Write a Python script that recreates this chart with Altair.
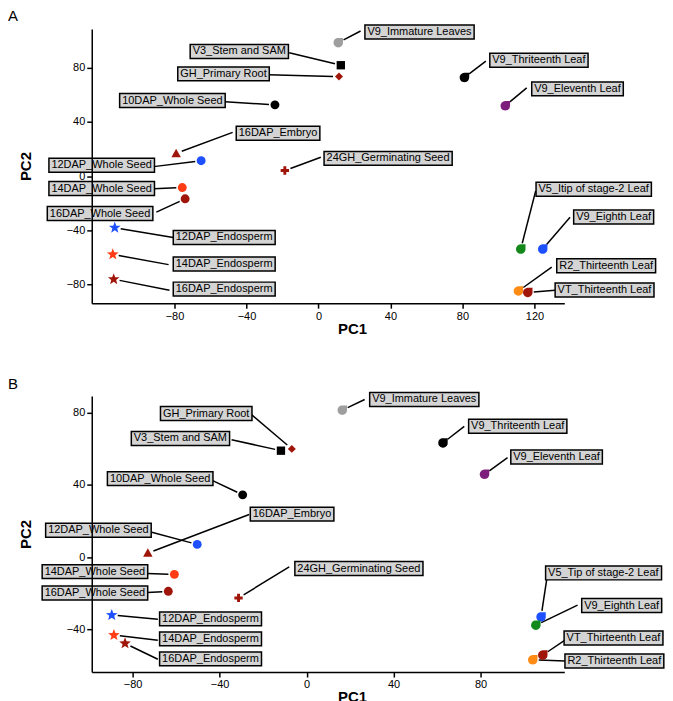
import altair as alt
import pandas as pd
import math

FONT = "Liberation Sans"

# ---------------- data ----------------
names_A = ["V9_Immature Leaves", "V3_Stem and SAM", "GH_Primary Root", "10DAP_Whole Seed",
           "16DAP_Embryo", "12DAP_Whole Seed", "24GH_Germinating Seed", "14DAP_Whole Seed",
           "16DAP_Whole Seed", "12DAP_Endosperm", "14DAP_Endosperm", "16DAP_Endosperm",
           "V9_Thriteenth Leaf", "V9_Eleventh Leaf", "V5_Itip of stage-2 Leaf", "V9_Eighth Leaf",
           "R2_Thirteenth Leaf", "VT_Thirteenth Leaf"]
pc1_A = [11.0, 12.4, 11.4, -24.2, -79.1, -65.2, -18.7, -75.7, -74.1, -113.2, -114.3, -113.8,
         81.1, 103.8, 112.4, 124.6, 111.1, 116.3]
pc2_A = [98.7, 82.0, 73.6, 52.7, 16.8, 11.4, 4.1, -8.5, -16.8, -38.2, -57.9, -76.3,
         72.9, 52.0, -54.0, -54.0, -85.0, -86.1]
# label anchors (data units): box left edge, box centre, leader start
labx_A = [25.8, -71.3, -78.2, -110.5, -45.7, -149.8, 3.1, -149.8, -150.7, -80.7, -80.7, -80.7,
          95.2, 118.5, 120.9, 141.8, 132.4, 131.5]
laby_A = [106.6, 92.2, 75.6, 55.9, 31.7, 8.0, 13.1, -9.2, -27.7, -45.4, -65.1, -83.6,
          85.7, 64.5, -9.8, -30.2, -66.4, -84.2]
lsx_A = [23.4, -16.3, -27.8, -51.9, -47.7, -91.6, 1.3, -91.5, -90.1, -80.7, -83.3, -82.8,
         93.0, 115.7, 120.7, 139.8, 129.6, 131.5]
lsy_A = [107.3, 91.3, 74.9, 54.9, 32.3, 7.0, 13.9, -9.4, -26.7, -45.4, -65.5, -84.4,
         85.0, 65.3, -10.9, -30.4, -67.3, -84.4]

names_B = ["V9_Immature Leaves", "V3_Stem and SAM", "GH_Primary Root", "10DAP_Whole Seed",
           "16DAP_Embryo", "12DAP_Whole Seed", "24GH_Germinating Seed", "14DAP_Whole Seed",
           "16DAP_Whole Seed", "12DAP_Endosperm", "14DAP_Endosperm", "16DAP_Endosperm",
           "V9_Thriteenth Leaf", "V9_Eleventh Leaf", "V5_Tip of stage-2 Leaf", "V9_Eighth Leaf",
           "R2_Thirteenth Leaf", "VT_Thirteenth Leaf"]
pc1_B = [16.4, -11.8, -6.8, -29.4, -73.0, -50.3, -31.3, -60.8, -63.6, -89.6, -88.6, -83.5,
         62.7, 81.8, 107.8, 105.4, 104.0, 108.6]
pc2_B = [81.5, 59.0, 60.0, 34.5, 2.2, 7.0, -22.7, -9.6, -19.0, -32.2, -43.3, -47.9,
         63.3, 45.9, -33.2, -37.8, -57.0, -54.4]
labx_B = [29.0, -80.6, -67.2, -91.6, -25.9, -120.0, -5.4, -121.6, -121.6, -67.6, -67.6, -67.6,
          74.5, 93.9, 109.9, 126.5, 118.8, 118.4]
laby_B = [87.4, 65.8, 79.6, 43.5, 23.8, 14.9, -6.4, -8.1, -20.0, -34.3, -45.4, -56.5,
          72.6, 55.5, -8.8, -26.9, -57.7, -44.9]
lsx_B = [26.7, -34.5, -25.6, -43.2, -26.4, -71.2, -8.0, -73.3, -73.3, -68.4, -68.4, -68.4,
         72.5, 92.4, 110.4, 124.6, 118.8, 118.8]
lsy_B = [87.4, 65.1, 79.3, 42.4, 23.6, 13.8, -5.5, -9.2, -19.7, -34.5, -46.1, -56.7,
         72.5, 55.1, -12.5, -26.7, -57.7, -46.1]

# ---------------- styles ----------------
# teardrop: 3/4 circle with a square corner at the upper right (polygon, unit box)
_arc = ["%.3f,%.3f" % (math.cos(math.radians(a)), math.sin(math.radians(a)))
        for a in range(0, 271, 15)]
TEAR = "M1,-1L" + "L".join(_arc) + "Z"
SQUARE = "M-1,-1L1,-1L1,1L-1,1Z"
DIAMOND = "M0,-1L1,0L0,1L-1,0Z"
TRIANGLE = "M0,-1L1,0.8L-1,0.8Z"
CROSS = "M-0.35,-1L0.35,-1L0.35,-0.35L1,-0.35L1,0.35L0.35,0.35L0.35,1L-0.35,1L-0.35,0.35L-1,0.35L-1,-0.35L-0.35,-0.35Z"
_star = []
for k in range(10):
    r = 1.0 if k % 2 == 0 else 0.42
    a = math.radians(-90 + 36 * k)
    _star.append("%.3f,%.3f" % (r * math.cos(a), r * math.sin(a)))
STAR = "M" + "L".join(_star) + "Z"

# marker kind per sample (same order in both panels) and its (shape, size)
kinds = ["tear", "square", "diamond", "circle", "triangle", "circle", "cross", "circle",
         "circle", "star", "star", "star", "tear", "tear", "tear", "tear", "tear", "tear"]
KIND_STYLE = {"circle": ("circle", 80), "tear": (TEAR, 90), "square": (SQUARE, 70),
              "diamond": (DIAMOND, 64), "triangle": (TRIANGLE, 90), "cross": (CROSS, 70),
              "star": (STAR, 150)}
GREY, BLACK, DRED, BLUE, RED = "#9e9e9e", "#000000", "#a0150a", "#1e50ff", "#ff3c14"
GREEN, PURPLE, ORANGE = "#12891a", "#7d1e7d", "#ff8a14"
colors_A = [GREY, BLACK, DRED, BLACK, DRED, BLUE, DRED, RED, DRED, BLUE, RED, DRED,
            BLACK, PURPLE, GREEN, BLUE, ORANGE, DRED]
colors_B = [GREY, BLACK, DRED, BLACK, DRED, BLUE, DRED, RED, DRED, BLUE, RED, DRED,
            BLACK, PURPLE, BLUE, GREEN, ORANGE, DRED]

ARIAL = {' ': 278, '_': 556, '-': 333, 'A': 667, 'D': 722, 'E': 667, 'G': 778, 'H': 722,
         'I': 278, 'L': 556, 'M': 833, 'P': 667, 'R': 722, 'S': 667, 'T': 611, 'V': 667,
         'W': 944, 'a': 556, 'b': 556, 'c': 500, 'd': 556, 'e': 556, 'f': 278, 'g': 556,
         'h': 556, 'i': 222, 'l': 222, 'm': 833, 'n': 556, 'o': 556, 'p': 556, 'r': 333,
         's': 500, 't': 278, 'u': 556, 'v': 500, 'y': 500}
LFS = 11     # label font size
PAD = 2.5    # box padding px
BOXH = 14    # box height px


def text_w(s):
    return sum(ARIAL.get(c, 556) for c in s) * LFS / 1000.0


def panel(letter, names, pc1, pc2, labx, laby, lsx, lsy, colors, xdom, ydom, xvals, yvals, w, h):
    kx = w / (xdom[1] - xdom[0])
    ky = h / (ydom[1] - ydom[0])
    bx2, by1, by2, ex, ey = [], [], [], [], []
    for i, n in enumerate(names):
        bx2.append(labx[i] + (text_w(n) + 2 * PAD) / kx)
        by1.append(laby[i] - BOXH / 2 / ky)
        by2.append(laby[i] + BOXH / 2 / ky)
        L = math.hypot((pc1[i] - lsx[i]) * kx, (pc2[i] - lsy[i]) * ky)
        f = max(0.0, (L - 6.0) / L) if L > 0 else 0.0
        ex.append(lsx[i] + (pc1[i] - lsx[i]) * f)
        ey.append(lsy[i] + (pc2[i] - lsy[i]) * f)
    df = pd.DataFrame({"name": names, "pc1": pc1, "pc2": pc2, "bx1": labx, "bx2": bx2,
                       "by1": by1, "by2": by2, "ly": laby, "sx": lsx, "sy": lsy,
                       "ex": ex, "ey": ey, "kind": kinds})
    axis_common = dict(grid=False, domainColor="black", domainWidth=1.5, tickColor="black",
                       tickWidth=1.5, tickSize=5, labelFontSize=11, labelColor="black",
                       labelFont=FONT, titleFont=FONT, titleFontSize=15,
                       titleFontWeight="bold", titleColor="black", labelPadding=2, zindex=1)
    xs = alt.Scale(domain=xdom, nice=False, zero=False)
    ys = alt.Scale(domain=ydom, nice=False, zero=False)
    color = alt.Color("name:N", scale=alt.Scale(domain=names, range=colors), legend=None)

    rules = alt.Chart(df).mark_rule(color="black", strokeWidth=1.5).encode(
        x=alt.X("sx:Q", scale=xs, title="PC1",
                axis=alt.Axis(values=xvals, titlePadding=0, titleX=261, **axis_common)),
        y=alt.Y("sy:Q", scale=ys, title="PC2",
                axis=alt.Axis(values=yvals, titlePadding=33, **axis_common)),
        x2=alt.X2("ex"), y2=alt.Y2("ey"))
    boxes = alt.Chart(df).mark_rect(fill="#d4d4d4", stroke="black", strokeWidth=1.5).encode(
        x=alt.X("bx1:Q"), x2=alt.X2("bx2"), y=alt.Y("by1:Q"), y2=alt.Y2("by2"))
    texts = alt.Chart(df).mark_text(align="left", baseline="middle", dx=PAD, font=FONT,
                                    fontSize=LFS, color="black").encode(
        x=alt.X("bx1:Q"), y=alt.Y("ly:Q"), text=alt.Text("name:N"))
    layers = [rules, boxes, texts]
    for kind, (shp, sz) in KIND_STYLE.items():
        sub = df[df["kind"] == kind]
        if len(sub) == 0:
            continue
        layers.append(alt.Chart(sub).mark_point(filled=True, opacity=1, shape=shp, size=sz)
                      .encode(x=alt.X("pc1:Q"), y=alt.Y("pc2:Q"), color=color))
    return alt.layer(*layers).properties(
        width=w, height=h,
        title=alt.TitleParams(letter, anchor="start", frame="group", dx=-84, offset=0,
                              fontSize=15, fontWeight="normal", font=FONT, color="black"))


pA = panel("A", names_A, pc1_A, pc2_A, labx_A, laby_A, lsx_A, lsy_A, colors_A,
           [-126, 136.6], [-94, 108.8], [-80, -40, 0, 40, 80, 120], [-80, -40, 0, 40, 80],
           474, 275)
pB = panel("B", names_B, pc1_B, pc2_B, labx_B, laby_B, lsx_B, lsy_B, colors_B,
           [-98.8, 118.5], [-63.8, 89.4], [-80, -40, 0, 40, 80], [-40, 0, 40, 80],
           474, 277)

chart = alt.vconcat(pA, pB, spacing=40).resolve_scale(
    x="independent", y="independent", color="independent"
).properties(padding={"left": 0, "top": 0, "right": 0, "bottom": 0}
).configure_view(strokeWidth=0)

chart.save("out.html", embed_options={"renderer": "svg", "actions": False})
